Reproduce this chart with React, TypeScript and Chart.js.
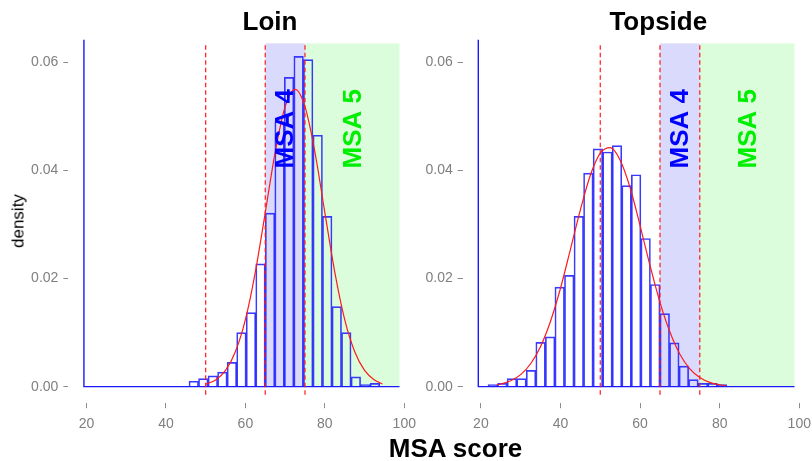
import React, { useEffect, useRef } from "react";
import { Chart, registerables } from "chart.js";

Chart.register(...registerables);

// ---------- data ----------
const LOIN_BINS = [47.0, 49.4, 51.8, 54.2, 56.6, 59.0, 61.4, 63.8, 66.2, 68.6, 71.0, 73.4, 75.8, 78.2, 80.6, 83.0, 85.4, 87.8, 90.2, 92.6];
const LOIN_DENSITY = [0.001, 0.0015, 0.002, 0.0027, 0.0045, 0.01, 0.0137, 0.0227, 0.0321, 0.049, 0.0572, 0.0611, 0.0605, 0.0465, 0.0315, 0.0148, 0.01, 0.0018, 0.0004, 0.0006];

const TOPSIDE_BINS = [23.0, 25.4, 27.8, 30.2, 32.6, 35.0, 37.4, 39.8, 42.2, 44.6, 47.0, 49.4, 51.8, 54.2, 56.6, 59.0, 61.4, 63.8, 66.2, 68.6, 71.0, 73.4, 75.8, 78.2, 80.6];
const TOPSIDE_DENSITY = [0.0004, 0.0006, 0.0015, 0.0015, 0.003, 0.0082, 0.0092, 0.0184, 0.0206, 0.0315, 0.0395, 0.044, 0.0434, 0.0446, 0.0372, 0.0392, 0.0274, 0.0189, 0.0135, 0.0081, 0.0038, 0.0013, 0.0006, 0.0006, 0.0004];

const LOIN_CURVE_X = [50, 52.5, 55, 57.5, 60, 62.5, 65, 67.5, 70, 72.5, 75, 77.5, 80, 82.5, 85, 87.5, 90, 92.5, 94.5];
const LOIN_CURVE_Y = [0.00045, 0.00123, 0.003, 0.0065, 0.0124, 0.0212, 0.0322, 0.0434, 0.0518, 0.055, 0.0518, 0.0434, 0.0322, 0.0212, 0.0124, 0.0065, 0.003, 0.00123, 0.0005];

const TOPSIDE_CURVE_X = [24, 25, 27.5, 30, 32.5, 35, 37.5, 40, 42.5, 45, 47.5, 50, 52.5, 55, 57.5, 60, 62.5, 65, 67.5, 70, 72.5, 75, 77.5, 80, 81.5];
const TOPSIDE_CURVE_Y = [0.00035, 0.00049, 0.00109, 0.00223, 0.00424, 0.00744, 0.0121, 0.0182, 0.0254, 0.0327, 0.0391, 0.0432, 0.0442, 0.0419, 0.0368, 0.0298, 0.0224, 0.0156, 0.0101, 0.006, 0.0033, 0.0017, 0.0008, 0.00035, 0.0002];

const X_TICKS = [20, 40, 60, 80, 100];
const Y_TICKS = [0, 0.02, 0.04, 0.06];
const GRADE_CUTOFFS = [50, 65, 75];
const MSA4_BAND = [65, 75];
const MSA5_BAND = [75, 98.8];
const BAND_TOP = 0.0635;
const BAND_LABELS = ["MSA 4", "MSA 5"];
const BAND_LABEL_X = [70.2, 87.3];
const BAND_LABEL_Y = 0.0477;
const AXIS_LINE_X = 19.35;
const AXIS_LINE_END = 98.8;
const X_RANGE = [15.43, 102.77];
const Y_RANGE = [-0.00306, 0.0642];
const CUTOFF_BOTTOM = -0.0015;

const FONT = "'Liberation Sans', Arial, sans-serif";
const H = 461;

type PanelProps = {
  bins: number[];
  density: number[];
  curveX: number[];
  curveY: number[];
  left: number;
  width: number;
  yAxisWidth: number;
  padRight: number;
};

function Panel({ bins, density, curveX, curveY, left, width, yAxisWidth, padRight }: PanelProps) {
  const ref = useRef<HTMLCanvasElement | null>(null);

  useEffect(() => {
    const canvas = ref.current;
    if (!canvas) return;

    const bandPlugin = {
      id: "bands",
      beforeDatasetsDraw(chart: any) {
        const { ctx, scales } = chart;
        const x = scales.x;
        const y = scales.y;
        ctx.save();
        const fillBand = (range: number[], color: string) => {
          const x0 = x.getPixelForValue(range[0]);
          const x1 = x.getPixelForValue(range[1]);
          const y0 = y.getPixelForValue(0);
          const y1 = y.getPixelForValue(BAND_TOP);
          ctx.fillStyle = color;
          ctx.fillRect(x0, y1, x1 - x0, y0 - y1);
        };
        fillBand(MSA4_BAND, "rgb(218,218,252)");
        fillBand(MSA5_BAND, "rgb(220,253,220)");
        ctx.restore();
      },
      afterDatasetsDraw(chart: any) {
        const { ctx, scales } = chart;
        const x = scales.x;
        const y = scales.y;
        const colors = ["#0000ff", "#00ee00"];
        BAND_LABELS.forEach((label, i) => {
          ctx.save();
          ctx.translate(x.getPixelForValue(BAND_LABEL_X[i]), y.getPixelForValue(BAND_LABEL_Y));
          ctx.rotate(-Math.PI / 2);
          ctx.font = `bold 26px ${FONT}`;
          ctx.textAlign = "center";
          ctx.textBaseline = "middle";
          ctx.fillStyle = colors[i];
          ctx.fillText(label, 0, 0);
          ctx.restore();
        });
      },
    };

    const datasets: any[] = [
      {
        type: "line",
        data: curveX.map((v, i) => ({ x: v, y: curveY[i] })),
        borderColor: "#ff1a1a",
        borderWidth: 1.2,
        pointRadius: 0,
        cubicInterpolationMode: "monotone",
        fill: false,
        order: 0,
      },
      ...GRADE_CUTOFFS.map((c) => ({
        type: "line",
        data: [
          { x: c, y: CUTOFF_BOTTOM },
          { x: c, y: BAND_TOP },
        ],
        borderColor: "rgba(255,20,20,0.9)",
        borderWidth: 1.3,
        borderDash: [4.5, 3],
        pointRadius: 0,
        fill: false,
        order: 1,
      })),
      {
        type: "line",
        data: [
          { x: AXIS_LINE_X, y: Y_RANGE[1] },
          { x: AXIS_LINE_X, y: 0 },
          { x: AXIS_LINE_END, y: 0 },
        ],
        borderColor: "#1a1aff",
        borderWidth: 1.4,
        pointRadius: 0,
        fill: false,
        order: 2,
      },
      {
        type: "bar",
        data: bins.map((b, i) => ({ x: b, y: density[i] })),
        borderColor: "rgba(25,25,255,0.85)",
        backgroundColor: "rgba(0,0,0,0)",
        borderWidth: 1,
        barPercentage: 1,
        categoryPercentage: 1,
        order: 3,
      },
    ];

    const chart = new Chart(canvas, {
      type: "bar",
      data: { datasets },
      plugins: [bandPlugin],
      options: {
        animation: false,
        responsive: false,
        devicePixelRatio: 1,
        events: [],
        layout: { padding: { left: 0, right: padRight, top: 39.6, bottom: 0 } },
        plugins: { legend: { display: false }, tooltip: { enabled: false }, title: { display: false } },
        scales: {
          x: {
            type: "linear",
            min: X_RANGE[0],
            max: X_RANGE[1],
            offset: false,
            afterBuildTicks: (axis: any) => {
              axis.ticks = X_TICKS.map((v) => ({ value: v }));
            },
            afterFit: (axis: any) => {
              axis.height = H - 403.2;
              axis.paddingLeft = 0;
              axis.paddingRight = 0;
            },
            grid: { display: true, drawOnChartArea: false, drawTicks: true, tickLength: 5, color: "#8c8c8c", offset: false },
            border: { display: false },
            ticks: {
              font: { family: FONT, size: 14 },
              color: "#7f7f7f",
              padding: 8,
              maxRotation: 0,
              callback: (v: any) => String(v),
            },
          },
          y: {
            type: "linear",
            min: Y_RANGE[0],
            max: Y_RANGE[1],
            afterBuildTicks: (axis: any) => {
              axis.ticks = Y_TICKS.map((v) => ({ value: v }));
            },
            afterFit: (axis: any) => {
              axis.width = yAxisWidth;
              axis.paddingTop = 0;
              axis.paddingBottom = 0;
            },
            grid: { display: true, drawOnChartArea: false, drawTicks: true, tickLength: 5, color: "#8c8c8c" },
            border: { display: false },
            ticks: {
              font: { family: FONT, size: 14 },
              color: "#7f7f7f",
              padding: 5,
              callback: (v: any) => Number(v).toFixed(2),
            },
          },
        },
      } as any,
    });

    return () => chart.destroy();
  }, []);

  return (
    <canvas
      ref={ref}
      width={width}
      height={H}
      style={{ position: "absolute", left, top: 0, width, height: H }}
    />
  );
}

const textBase: React.CSSProperties = {
  position: "absolute",
  whiteSpace: "nowrap",
  color: "#000",
  fontFamily: FONT,
};

export default function App() {
  return (
    <div
      style={{
        position: "absolute",
        left: 0,
        top: 0,
        width: 812,
        height: H,
        background: "#fff",
        overflow: "hidden",
      }}
    >
      <Panel
        bins={LOIN_BINS}
        density={LOIN_DENSITY}
        curveX={LOIN_CURVE_X}
        curveY={LOIN_CURVE_Y}
        left={0}
        width={420}
        yAxisWidth={68.35}
        padRight={4.7}
      />
      <Panel
        bins={TOPSIDE_BINS}
        density={TOPSIDE_DENSITY}
        curveX={TOPSIDE_CURVE_X}
        curveY={TOPSIDE_CURVE_Y}
        left={420}
        width={392}
        yAxisWidth={42.7}
        padRight={1.7}
      />
      <div style={{ ...textBase, left: 270, top: 8, transform: "translateX(-50%)", fontSize: 26, lineHeight: "26px", fontWeight: "bold" }}>
        Loin
      </div>
      <div style={{ ...textBase, left: 658.3, top: 8, transform: "translateX(-50%)", fontSize: 26, lineHeight: "26px", fontWeight: "bold" }}>
        Topside
      </div>
      <div style={{ ...textBase, left: 455.5, top: 434.7, transform: "translateX(-50%)", fontSize: 26, lineHeight: "26px", fontWeight: "bold" }}>
        MSA score
      </div>
      <div
        style={{
          ...textBase,
          left: 17.5,
          top: 220.8,
          transform: "translate(-50%, -50%) rotate(-90deg)",
          fontSize: 17,
          lineHeight: "17px",
        }}
      >
        density
      </div>
    </div>
  );
}
